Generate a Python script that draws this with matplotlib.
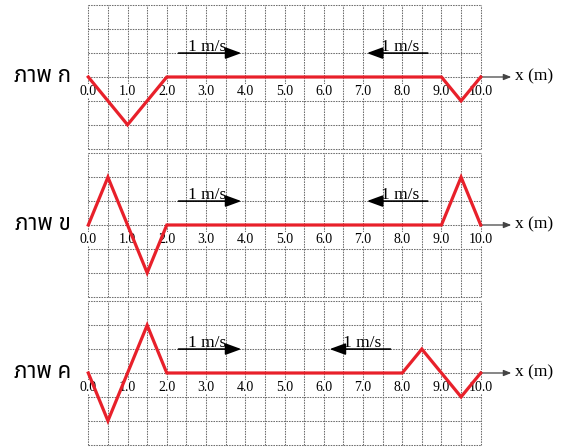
import numpy as np
import matplotlib.pyplot as plt

# ข้อมูลของแต่ละภาพ
panel_labels = ['ภาพ ก', 'ภาพ ข', 'ภาพ ค']
wave_x = [
    [0, 1, 2, 9, 9.5, 10],
    [0, 0.5, 1.5, 2, 9, 9.5, 10],
    [0, 0.5, 1.5, 2, 8, 8.5, 9.5, 10],
]
wave_y = [
    [0, -2, 0, 0, -1, 0],
    [0, 2, -2, 0, 0, 2, 0],
    [0, -2, 2, 0, 0, 1, -1, 0],
]
tick_values = [0, 1, 2, 3, 4, 5, 6, 7, 8, 9, 10]
tick_labels = ['0.0', '1.0', '2.0', '3.0', '4.0', '5.0', '6.0', '7.0', '8.0', '9.0', '10.0']
speed_label = '1 m/s'
# ลูกศรความเร็ว (เริ่ม, ปลาย)
right_arrows = [(2.3, 3.9), (2.3, 3.9), (2.3, 3.9)]
left_arrows = [(8.65, 7.1), (8.65, 7.1), (7.7, 6.15)]

serif = ['Liberation Serif', 'DejaVu Serif']
thai = ['Noto Sans Thai', 'Loma', 'Garuda', 'Tlwg Typo', 'Noto Sans', 'DejaVu Sans']
red = '#e8202a'
grid_color = '#6e6e6e'

fig = plt.figure(figsize=(5.66, 4.47), dpi=100)
W, H = 566, 447
left_px, right_px = 88.3, 480.7
tops = [5.3, 153.3, 301.3]
panel_h = 143.4

for i in range(3):
    top = tops[i]
    ax = fig.add_axes([left_px / W, 1 - (top + panel_h) / H,
                       (right_px - left_px) / W, panel_h / H])
    ax.set_xlim(0, 10)
    ax.set_ylim(-3, 3)
    ax.set_xticks(np.arange(0, 10.01, 0.5))
    ax.set_yticks(np.arange(-3, 3.01, 1))
    ax.tick_params(length=0, labelbottom=False, labelleft=False)
    ax.grid(True, color=grid_color, lw=0.75, linestyle=(0, (1.5, 1)))
    for gl in ax.get_xgridlines() + ax.get_ygridlines():
        gl.set_clip_on(False)
    for sp in ax.spines.values():
        sp.set_visible(False)

    # ป้ายตัวเลขบนแกน x
    for v, t in zip(tick_values, tick_labels):
        ax.text(v, -0.6, t, ha='center', va='center', fontsize=10,
                family=serif, zorder=3,
                bbox=dict(facecolor='white', edgecolor='none', pad=0.3))

    # คลื่น
    ax.plot(wave_x[i], wave_y[i], color=red, lw=2.3, zorder=5,
            solid_joinstyle='miter', clip_on=False)

    # แกน x
    ax.annotate('', xy=(10.78, 0), xytext=(10, 0), annotation_clip=False,
                arrowprops=dict(arrowstyle='-|>,head_length=0.5,head_width=0.2',
                                color='#444444', lw=0.9,
                                mutation_scale=9, shrinkA=0, shrinkB=0))
    ax.text(10.88, 0.02, 'x (m)', ha='left', va='center', fontsize=12.5,
            family=serif, clip_on=False)

    # ลูกศรความเร็ว
    for (x0, x1) in [right_arrows[i], left_arrows[i]]:
        ax.annotate('', xy=(x1, 1), xytext=(x0, 1),
                    arrowprops=dict(arrowstyle='-|>,head_length=0.6,head_width=0.22',
                                    color='black', lw=1.2,
                                    mutation_scale=16, shrinkA=0, shrinkB=0),
                    zorder=4)
        tx = min(x0, x1) + 0.25 if x1 > x0 else x1 + 0.35
        ax.text(tx, 1.08, speed_label, ha='left', va='baseline',
                fontsize=12.5, family=serif, zorder=4)

    # ชื่อภาพ
    ax.text(-0.45, 0, panel_labels[i], ha='right', va='center',
            fontsize=16, family=thai, clip_on=False)

fig.savefig('out.png', dpi=100)
